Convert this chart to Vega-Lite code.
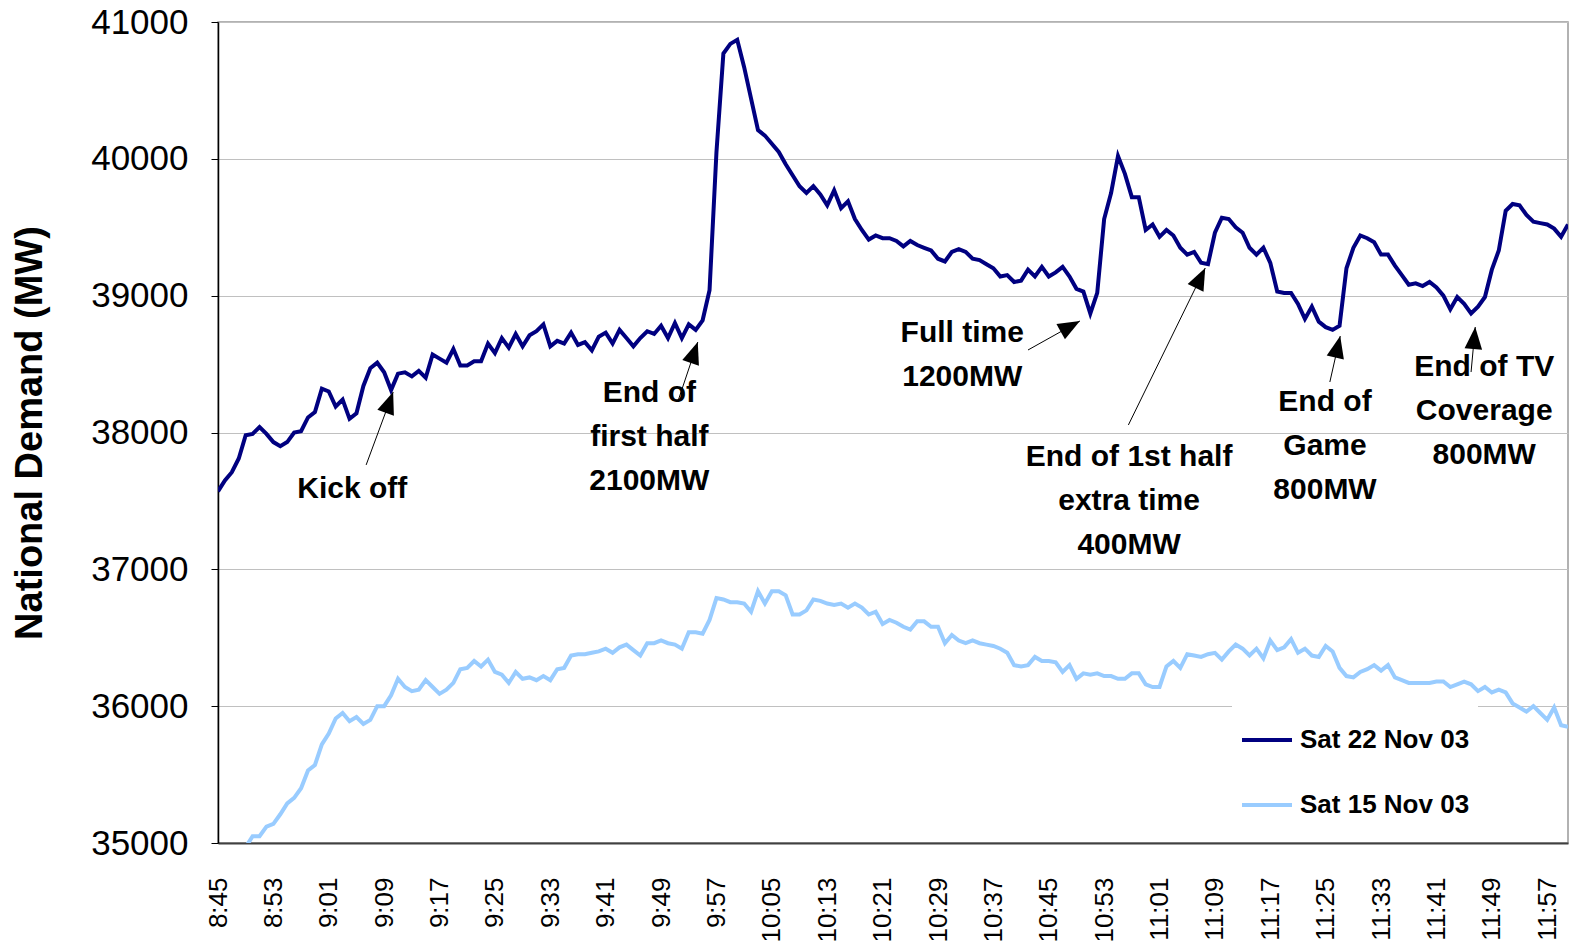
{
"$schema":"https://vega.github.io/schema/vega-lite/v6.json",
"width":1350,"height":821,
"autosize":"none",
"padding":{"left":218,"top":22,"right":3,"bottom":100},
"background":"white",
"config":{"view":{"stroke":"#999999","strokeWidth":1.5},"font":"Liberation Sans"},
"datasets":{
"nov22":[{"minute":525,"mw":37570},{"minute":526,"mw":37650},{"minute":527,"mw":37710},{"minute":528,"mw":37810},{"minute":529,"mw":37980},{"minute":530,"mw":37990},{"minute":531,"mw":38040},{"minute":532,"mw":37990},{"minute":533,"mw":37930},{"minute":534,"mw":37900},
{"minute":535,"mw":37930},{"minute":536,"mw":38000},{"minute":537,"mw":38010},{"minute":538,"mw":38110},{"minute":539,"mw":38150},{"minute":540,"mw":38320},{"minute":541,"mw":38300},{"minute":542,"mw":38190},{"minute":543,"mw":38240},{"minute":544,"mw":38100},
{"minute":545,"mw":38140},{"minute":546,"mw":38340},{"minute":547,"mw":38470},{"minute":548,"mw":38510},{"minute":549,"mw":38440},{"minute":550,"mw":38310},{"minute":551,"mw":38430},{"minute":552,"mw":38440},{"minute":553,"mw":38410},{"minute":554,"mw":38450},
{"minute":555,"mw":38400},{"minute":556,"mw":38570},{"minute":557,"mw":38540},{"minute":558,"mw":38510},{"minute":559,"mw":38610},{"minute":560,"mw":38490},{"minute":561,"mw":38490},{"minute":562,"mw":38520},{"minute":563,"mw":38520},{"minute":564,"mw":38650},
{"minute":565,"mw":38580},{"minute":566,"mw":38690},{"minute":567,"mw":38620},{"minute":568,"mw":38720},{"minute":569,"mw":38630},{"minute":570,"mw":38710},{"minute":571,"mw":38740},{"minute":572,"mw":38790},{"minute":573,"mw":38630},{"minute":574,"mw":38670},
{"minute":575,"mw":38650},{"minute":576,"mw":38730},{"minute":577,"mw":38640},{"minute":578,"mw":38660},{"minute":579,"mw":38600},{"minute":580,"mw":38700},{"minute":581,"mw":38730},{"minute":582,"mw":38650},{"minute":583,"mw":38750},{"minute":584,"mw":38690},
{"minute":585,"mw":38630},{"minute":586,"mw":38690},{"minute":587,"mw":38740},{"minute":588,"mw":38720},{"minute":589,"mw":38780},{"minute":590,"mw":38690},{"minute":591,"mw":38800},{"minute":592,"mw":38690},{"minute":593,"mw":38790},{"minute":594,"mw":38750},
{"minute":595,"mw":38820},{"minute":596,"mw":39040},{"minute":597,"mw":40050},{"minute":598,"mw":40770},{"minute":599,"mw":40840},{"minute":600,"mw":40870},{"minute":601,"mw":40670},{"minute":602,"mw":40440},{"minute":603,"mw":40210},{"minute":604,"mw":40170},
{"minute":605,"mw":40110},{"minute":606,"mw":40050},{"minute":607,"mw":39960},{"minute":608,"mw":39880},{"minute":609,"mw":39800},{"minute":610,"mw":39750},{"minute":611,"mw":39800},{"minute":612,"mw":39740},{"minute":613,"mw":39660},{"minute":614,"mw":39770},
{"minute":615,"mw":39640},{"minute":616,"mw":39690},{"minute":617,"mw":39560},{"minute":618,"mw":39480},{"minute":619,"mw":39410},{"minute":620,"mw":39440},{"minute":621,"mw":39420},{"minute":622,"mw":39420},{"minute":623,"mw":39400},{"minute":624,"mw":39360},
{"minute":625,"mw":39400},{"minute":626,"mw":39370},{"minute":627,"mw":39350},{"minute":628,"mw":39330},{"minute":629,"mw":39270},{"minute":630,"mw":39250},{"minute":631,"mw":39320},{"minute":632,"mw":39340},{"minute":633,"mw":39320},{"minute":634,"mw":39270},
{"minute":635,"mw":39260},{"minute":636,"mw":39230},{"minute":637,"mw":39200},{"minute":638,"mw":39140},{"minute":639,"mw":39150},{"minute":640,"mw":39100},{"minute":641,"mw":39110},{"minute":642,"mw":39190},{"minute":643,"mw":39140},{"minute":644,"mw":39210},
{"minute":645,"mw":39140},{"minute":646,"mw":39170},{"minute":647,"mw":39210},{"minute":648,"mw":39140},{"minute":649,"mw":39050},{"minute":650,"mw":39030},{"minute":651,"mw":38870},{"minute":652,"mw":39020},{"minute":653,"mw":39560},{"minute":654,"mw":39750},
{"minute":655,"mw":40020},{"minute":656,"mw":39890},{"minute":657,"mw":39720},{"minute":658,"mw":39720},{"minute":659,"mw":39480},{"minute":660,"mw":39520},{"minute":661,"mw":39430},{"minute":662,"mw":39480},{"minute":663,"mw":39440},{"minute":664,"mw":39350},
{"minute":665,"mw":39300},{"minute":666,"mw":39320},{"minute":667,"mw":39240},{"minute":668,"mw":39230},{"minute":669,"mw":39460},{"minute":670,"mw":39570},{"minute":671,"mw":39560},{"minute":672,"mw":39500},{"minute":673,"mw":39460},{"minute":674,"mw":39350},
{"minute":675,"mw":39300},{"minute":676,"mw":39350},{"minute":677,"mw":39240},{"minute":678,"mw":39030},{"minute":679,"mw":39020},{"minute":680,"mw":39020},{"minute":681,"mw":38940},{"minute":682,"mw":38830},{"minute":683,"mw":38920},{"minute":684,"mw":38810},
{"minute":685,"mw":38770},{"minute":686,"mw":38750},{"minute":687,"mw":38780},{"minute":688,"mw":39200},{"minute":689,"mw":39350},{"minute":690,"mw":39440},{"minute":691,"mw":39420},{"minute":692,"mw":39390},{"minute":693,"mw":39300},{"minute":694,"mw":39300},
{"minute":695,"mw":39220},{"minute":696,"mw":39150},{"minute":697,"mw":39080},{"minute":698,"mw":39090},{"minute":699,"mw":39070},{"minute":700,"mw":39100},{"minute":701,"mw":39060},{"minute":702,"mw":39000},{"minute":703,"mw":38900},{"minute":704,"mw":38990},
{"minute":705,"mw":38940},{"minute":706,"mw":38870},{"minute":707,"mw":38920},{"minute":708,"mw":38990},{"minute":709,"mw":39190},{"minute":710,"mw":39330},{"minute":711,"mw":39620},{"minute":712,"mw":39670},{"minute":713,"mw":39660},{"minute":714,"mw":39590},
{"minute":715,"mw":39540},{"minute":716,"mw":39530},{"minute":717,"mw":39520},{"minute":718,"mw":39490},{"minute":719,"mw":39430},{"minute":720,"mw":39520}],
"nov15":[{"minute":525,"mw":34680},{"minute":526,"mw":34760},{"minute":527,"mw":34840},{"minute":528,"mw":34910},{"minute":529,"mw":34970},{"minute":530,"mw":35050},{"minute":531,"mw":35050},{"minute":532,"mw":35120},{"minute":533,"mw":35140},{"minute":534,"mw":35210},
{"minute":535,"mw":35290},{"minute":536,"mw":35330},{"minute":537,"mw":35400},{"minute":538,"mw":35530},{"minute":539,"mw":35570},{"minute":540,"mw":35720},{"minute":541,"mw":35800},{"minute":542,"mw":35910},{"minute":543,"mw":35950},{"minute":544,"mw":35890},
{"minute":545,"mw":35920},{"minute":546,"mw":35870},{"minute":547,"mw":35900},{"minute":548,"mw":36000},{"minute":549,"mw":36000},{"minute":550,"mw":36080},{"minute":551,"mw":36200},{"minute":552,"mw":36140},{"minute":553,"mw":36110},{"minute":554,"mw":36120},
{"minute":555,"mw":36190},{"minute":556,"mw":36140},{"minute":557,"mw":36090},{"minute":558,"mw":36120},{"minute":559,"mw":36170},{"minute":560,"mw":36270},{"minute":561,"mw":36280},{"minute":562,"mw":36330},{"minute":563,"mw":36290},{"minute":564,"mw":36340},
{"minute":565,"mw":36250},{"minute":566,"mw":36230},{"minute":567,"mw":36170},{"minute":568,"mw":36250},{"minute":569,"mw":36200},{"minute":570,"mw":36210},{"minute":571,"mw":36190},{"minute":572,"mw":36220},{"minute":573,"mw":36190},{"minute":574,"mw":36270},
{"minute":575,"mw":36280},{"minute":576,"mw":36370},{"minute":577,"mw":36380},{"minute":578,"mw":36380},{"minute":579,"mw":36390},{"minute":580,"mw":36400},{"minute":581,"mw":36420},{"minute":582,"mw":36390},{"minute":583,"mw":36430},{"minute":584,"mw":36450},
{"minute":585,"mw":36410},{"minute":586,"mw":36370},{"minute":587,"mw":36460},{"minute":588,"mw":36460},{"minute":589,"mw":36480},{"minute":590,"mw":36460},{"minute":591,"mw":36450},{"minute":592,"mw":36420},{"minute":593,"mw":36540},{"minute":594,"mw":36540},
{"minute":595,"mw":36530},{"minute":596,"mw":36630},{"minute":597,"mw":36790},{"minute":598,"mw":36780},{"minute":599,"mw":36760},{"minute":600,"mw":36760},{"minute":601,"mw":36750},{"minute":602,"mw":36690},{"minute":603,"mw":36840},{"minute":604,"mw":36750},
{"minute":605,"mw":36840},{"minute":606,"mw":36840},{"minute":607,"mw":36810},{"minute":608,"mw":36670},{"minute":609,"mw":36670},{"minute":610,"mw":36700},{"minute":611,"mw":36780},{"minute":612,"mw":36770},{"minute":613,"mw":36750},{"minute":614,"mw":36740},
{"minute":615,"mw":36750},{"minute":616,"mw":36720},{"minute":617,"mw":36750},{"minute":618,"mw":36720},{"minute":619,"mw":36670},{"minute":620,"mw":36690},{"minute":621,"mw":36600},{"minute":622,"mw":36630},{"minute":623,"mw":36610},{"minute":624,"mw":36580},
{"minute":625,"mw":36560},{"minute":626,"mw":36620},{"minute":627,"mw":36620},{"minute":628,"mw":36580},{"minute":629,"mw":36580},{"minute":630,"mw":36460},{"minute":631,"mw":36520},{"minute":632,"mw":36480},{"minute":633,"mw":36460},{"minute":634,"mw":36480},
{"minute":635,"mw":36460},{"minute":636,"mw":36450},{"minute":637,"mw":36440},{"minute":638,"mw":36420},{"minute":639,"mw":36390},{"minute":640,"mw":36300},{"minute":641,"mw":36290},{"minute":642,"mw":36300},{"minute":643,"mw":36360},{"minute":644,"mw":36330},
{"minute":645,"mw":36330},{"minute":646,"mw":36320},{"minute":647,"mw":36250},{"minute":648,"mw":36300},{"minute":649,"mw":36200},{"minute":650,"mw":36240},{"minute":651,"mw":36230},{"minute":652,"mw":36240},{"minute":653,"mw":36220},{"minute":654,"mw":36220},
{"minute":655,"mw":36200},{"minute":656,"mw":36200},{"minute":657,"mw":36240},{"minute":658,"mw":36240},{"minute":659,"mw":36160},{"minute":660,"mw":36140},{"minute":661,"mw":36140},{"minute":662,"mw":36290},{"minute":663,"mw":36330},{"minute":664,"mw":36280},
{"minute":665,"mw":36380},{"minute":666,"mw":36370},{"minute":667,"mw":36360},{"minute":668,"mw":36380},{"minute":669,"mw":36390},{"minute":670,"mw":36340},{"minute":671,"mw":36400},{"minute":672,"mw":36450},{"minute":673,"mw":36420},{"minute":674,"mw":36370},
{"minute":675,"mw":36420},{"minute":676,"mw":36350},{"minute":677,"mw":36480},{"minute":678,"mw":36410},{"minute":679,"mw":36430},{"minute":680,"mw":36490},{"minute":681,"mw":36390},{"minute":682,"mw":36420},{"minute":683,"mw":36370},{"minute":684,"mw":36360},
{"minute":685,"mw":36440},{"minute":686,"mw":36400},{"minute":687,"mw":36280},{"minute":688,"mw":36220},{"minute":689,"mw":36210},{"minute":690,"mw":36250},{"minute":691,"mw":36270},{"minute":692,"mw":36300},{"minute":693,"mw":36260},{"minute":694,"mw":36300},
{"minute":695,"mw":36210},{"minute":696,"mw":36190},{"minute":697,"mw":36170},{"minute":698,"mw":36170},{"minute":699,"mw":36170},{"minute":700,"mw":36170},{"minute":701,"mw":36180},{"minute":702,"mw":36180},{"minute":703,"mw":36140},{"minute":704,"mw":36160},
{"minute":705,"mw":36180},{"minute":706,"mw":36160},{"minute":707,"mw":36110},{"minute":708,"mw":36140},{"minute":709,"mw":36100},{"minute":710,"mw":36120},{"minute":711,"mw":36100},{"minute":712,"mw":36020},{"minute":713,"mw":35990},{"minute":714,"mw":35960},
{"minute":715,"mw":36000},{"minute":716,"mw":35950},{"minute":717,"mw":35900},{"minute":718,"mw":35990},{"minute":719,"mw":35860},{"minute":720,"mw":35850}],
"notes":[
{"id":"kick","label":"Kick off","tx":544.4,"ty":37587,"ax":546.4,"ay":37763,"bx":550.3,"by":38296},
{"id":"half","label":"End of\nfirst half\n2100MW","tx":587.3,"ty":38290,"ax":591.5,"ay":38238,"bx":594.3,"by":38661},
{"id":"full","label":"Full time\n1200MW","tx":632.5,"ty":38730,"ax":642.0,"ay":38603,"bx":649.5,"by":38815},
{"id":"extra","label":"End of 1st half\nextra time\n400MW","tx":656.6,"ty":37822,"ax":656.5,"ay":38055,"bx":667.6,"by":39202},
{"id":"game","label":"End of\nGame\n800MW","tx":684.9,"ty":38225,"ax":685.6,"ay":38369,"bx":687.1,"by":38705},
{"id":"tv","label":"End of TV\nCoverage\n800MW","tx":707.9,"ty":38480,"ax":706.0,"ay":38442,"bx":706.6,"by":38771}
]},
"layer":[
{"data":{"name":"nov22"},
 "mark":{"type":"line","strokeWidth":4,"clip":true},
 "encoding":{
  "x":{"field":"minute","type":"quantitative","title":null,
   "scale":{"domain":[525,720],"nice":false,"zero":false},
   "axis":{"values":[525,533,541,549,557,565,573,581,589,597,605,613,621,629,637,645,653,661,669,677,685,693,701,709,717],
    "labelExpr":"floor(datum.value/60) + ':' + (datum.value % 60 < 10 ? '0' : '') + (datum.value % 60)",
    "labelAngle":-90,"labelFont":"Liberation Sans","labelFontSize":26,"labelColor":"black","labelPadding":34,
    "ticks":false,"grid":false,"domainColor":"#404040","domainWidth":2,"labelOverlap":false,"labelFlush":false,"labelBound":false}},
  "y":{"field":"mw","type":"quantitative","title":"National Demand (MW)",
   "scale":{"domain":[35000,41000],"nice":false,"zero":false},
   "axis":{"values":[35000,36000,37000,38000,39000,40000,41000],"format":"d",
    "labelFont":"Liberation Sans","labelFontSize":35,"labelColor":"black","labelPadding":23,
    "ticks":true,"tickSize":7,"tickColor":"black","domainColor":"black","domainWidth":1.5,
    "grid":true,"gridColor":"#c0c0c0","gridWidth":1,"labelOverlap":false,"labelFlush":false,"labelBound":false,
    "titleFont":"Liberation Sans","titleFontSize":38,"titleFontWeight":"bold","titleColor":"black",
    "titleX":-188,"titleY":410.5,"titleAngle":-90,"titleAlign":"center","titleBaseline":"middle"}},
  "color":{"datum":"Sat 22 Nov 03","type":"nominal",
   "scale":{"domain":["Sat 22 Nov 03","Sat 15 Nov 03"],"range":["#000080","#99CCFF"]},
   "legend":{"orient":"none","legendX":1014,"legendY":683,"title":null,"fillColor":"white","padding":8,
    "symbolType":"stroke","symbolSize":2500,"symbolStrokeWidth":4,"labelFont":"Liberation Sans","labelFontWeight":"bold",
    "labelFontSize":26,"labelColor":"black","labelLimit":400,"rowPadding":25,"labelOffset":6}}}},
{"data":{"name":"nov15"},
 "mark":{"type":"line","strokeWidth":4,"clip":true},
 "encoding":{
  "x":{"field":"minute","type":"quantitative","title":null},
  "y":{"field":"mw","type":"quantitative","title":"National Demand (MW)"},
  "color":{"datum":"Sat 15 Nov 03","type":"nominal"}}},
{"data":{"name":"notes"},
 "mark":{"type":"rule","color":"black","strokeWidth":1},
 "encoding":{
  "x":{"field":"ax","type":"quantitative","title":null},
  "y":{"field":"ay","type":"quantitative","title":"National Demand (MW)"},
  "x2":{"field":"bx"},
  "y2":{"field":"by"}}},
{"data":{"name":"notes"},
 "mark":{"type":"point","shape":"M0,0L-0.4,1L0.4,1Z","filled":true,"color":"black","opacity":1,"size":1936,"strokeWidth":0},
 "encoding":{
  "x":{"field":"bx","type":"quantitative","title":null},
  "y":{"field":"by","type":"quantitative","title":"National Demand (MW)"},
  "angle":{"field":"id","type":"nominal","legend":null,
   "scale":{"type":"ordinal","domain":["kick","half","full","extra","game","tv"],"range":[20,19,61,26,13,5]}}}},
{"data":{"name":"notes"},
 "mark":{"type":"text","font":"Liberation Sans","fontSize":30,"fontWeight":"bold","color":"black","lineBreak":"\n","lineHeight":44,"align":"center","baseline":"middle"},
 "encoding":{
  "x":{"field":"tx","type":"quantitative","title":null},
  "y":{"field":"ty","type":"quantitative","title":"National Demand (MW)"},
  "text":{"field":"label","type":"nominal"}}}
]
}
